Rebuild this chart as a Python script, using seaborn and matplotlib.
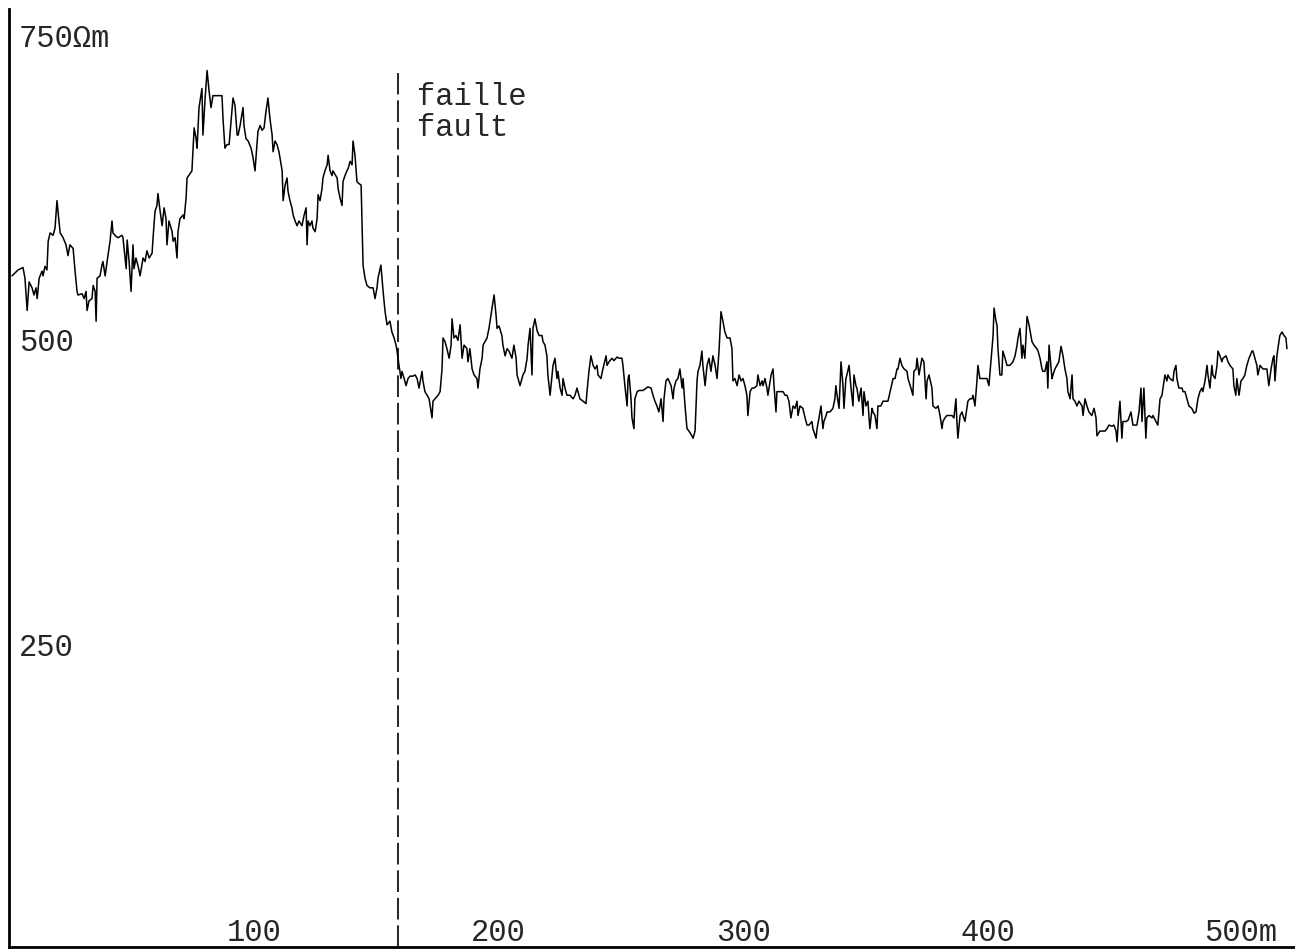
import seaborn as sns
import matplotlib.pyplot as plt
import pandas as pd

# resistivity profile (distance in m, apparent resistivity in ohm.m)
distance = [
    1.2, 3.7, 5.7, 6.5, 7.4, 8.2, 9.4, 10.2, 11.0, 11.5, 12.3, 13.5, 13.9, 14.7, 15.5, 16.0,
    16.8, 18.0, 18.8, 19.6, 20.4, 20.9, 22.1, 23.3, 24.1, 24.9, 26.2, 27.0, 27.8, 28.2, 29.9,
    30.7, 31.5, 31.9, 32.7, 33.9, 34.4, 35.2, 35.6, 36.0, 37.2, 38.0, 38.4, 39.3, 40.1, 41.3,
    42.1, 42.5, 43.8, 44.6, 46.2, 46.6, 47.9, 48.3, 49.1, 49.9, 50.7, 51.1, 51.9, 52.8, 53.6,
    54.8, 55.6, 56.4, 57.3, 58.5, 58.9, 59.7, 60.5, 60.9, 61.8, 62.6, 63.4, 64.2, 64.6, 65.4,
    66.7, 67.1, 67.9, 68.7, 69.1, 69.9, 71.2, 71.6, 72.4, 72.8,
    74.8, 75.7, 76.5, 76.9, 77.7, 78.9, 79.3, 80.2, 81.0, 81.8, 82.6, 83.4, 87.1, 87.5, 88.3,
    89.1, 90.0, 90.8, 91.6, 92.4, 93.3, 93.7, 94.5, 95.7, 96.1, 96.9, 97.8, 99.0, 99.8, 100.6,
    101.4, 101.8, 102.7, 103.5, 104.3, 105.1, 105.9, 106.7, 107.6, 108.0, 108.8, 109.6, 110.4,
    111.7, 112.1, 112.9, 113.7, 114.1, 114.9, 115.7, 116.2, 117.0, 117.8, 118.6, 119.8, 120.7,
    121.5, 121.9, 122.3, 123.1, 123.9, 124.3, 125.2, 126.0, 126.4, 127.2, 128.0, 128.4, 129.2,
    130.1, 130.5, 131.3, 132.1, 132.5, 134.2, 134.6, 135.4, 136.2, 136.6, 137.4, 138.2, 138.7,
    139.5, 140.3, 140.7, 141.5, 142.3, 142.7, 144.0, 144.4, 144.8, 145.6, 146.4, 147.6, 148.9,
    149.7, 150.5, 150.9, 152.1, 153.0, 153.8, 154.6, 155.8, 156.6, 157.5, 158.3, 158.7,
    159.5, 160.3, 160.7, 161.6, 162.4, 163.2, 164.0, 165.2, 166.1, 166.9, 167.7, 168.9, 169.3,
    170.1, 171.0, 171.8, 173.0, 173.4, 174.2, 175.5, 176.3, 177.1, 177.5, 178.3, 179.1, 180.0,
    180.8, 181.2, 182.0, 182.8, 183.6, 184.5, 185.3, 186.1, 187.3, 187.7, 188.5, 189.4, 190.2,
    191.4, 191.8, 192.6, 193.5, 193.9, 194.7, 195.5, 196.3, 197.1, 198.0, 198.4, 199.2, 199.6,
    200.4, 201.6, 202.0, 202.9, 203.7, 204.5, 205.7, 206.5, 207.4, 207.8, 209.0, 209.8, 210.2,
    211.0, 211.9, 212.3, 213.1, 213.9, 214.3, 215.1, 216.0, 216.8, 218.0, 218.4, 219.2, 220.0,
    220.4, 221.3, 222.1, 222.5, 223.3, 224.1, 224.5, 225.4, 226.2, 226.6, 227.4, 228.2, 229.4,
    230.7, 231.5, 232.3, 233.5, 234.8, 236.0, 236.4, 237.2, 238.0, 238.9, 239.7, 240.5, 240.9,
    242.1, 242.9, 244.2, 244.6,
    245.4, 246.6, 247.4, 248.7, 249.5, 250.7, 251.1, 251.9, 252.8, 253.2, 253.6, 254.4, 254.8,
    255.6, 256.0, 256.9, 257.7, 259.3, 261.3, 262.6, 263.4, 264.2, 265.0, 265.8, 266.7, 267.5,
    267.9, 268.7, 269.5, 270.8, 271.6, 272.0, 272.8, 273.6, 274.4, 275.3, 275.7, 276.5, 277.3,
    278.1, 279.3, 279.8, 280.6, 281.4, 281.8, 282.6, 283.4, 283.8, 284.7, 285.5, 286.3, 287.1,
    287.9, 288.8, 289.6, 290.4, 291.2, 292.0, 292.8, 293.7, 294.9, 295.7, 296.1, 296.9, 297.8,
    298.6, 299.4, 300.2, 301.0, 301.8, 302.2, 303.1, 303.9, 304.7, 305.9, 306.3, 307.2, 308.0,
    308.4, 309.2, 310.0, 310.4, 311.7, 312.5, 312.9, 313.7, 314.1, 315.3, 316.6, 317.4, 318.2,
    319.0, 319.8, 320.7, 321.5, 322.3, 322.7, 323.5, 324.7, 325.6, 326.4, 327.2, 328.4, 328.8,
    330.1, 330.5, 331.3,
    332.1, 332.9, 333.3, 334.2, 334.6, 335.8, 337.0, 337.8, 338.2, 338.7, 339.5, 340.3, 341.1,
    341.5, 342.3, 342.7, 343.6, 344.4, 345.2, 345.6, 346.4, 346.8, 347.6, 348.5, 349.3, 349.7,
    350.5, 351.3, 352.1, 353.0, 353.4, 354.2, 355.0, 355.4, 356.6, 357.5, 358.7, 359.5, 360.7,
    361.6, 362.4, 363.2, 363.6, 364.4, 365.2, 366.1, 367.3, 367.7, 368.9, 369.7, 370.1, 371.0,
    371.4, 372.2, 373.4, 374.2, 375.1, 375.5, 376.3, 377.5, 377.9, 379.1, 380.0, 380.8, 381.6,
    382.0, 382.8, 383.6, 384.5, 385.7, 386.5, 387.3, 387.7, 388.1, 389.0, 389.8, 390.2, 391.0,
    391.8, 392.2, 393.0, 393.9, 394.3, 395.1, 395.9, 396.3, 397.1, 398.4, 399.2, 400.0, 400.8,
    401.6, 402.5, 402.9, 403.7, 404.1, 404.5, 405.3, 406.1, 406.5, 407.4, 408.2, 409.4, 410.6,
    411.5, 412.3, 412.7, 413.5, 414.3, 414.7, 415.5, 416.4, 417.2,
    418.4, 419.2, 420.4, 420.9, 421.7, 422.5, 422.9, 423.7, 424.5, 424.9, 425.4, 426.6, 427.0,
    427.8, 428.6, 429.4, 430.3, 431.1, 431.9, 432.7, 433.1, 434.0, 434.8, 435.2, 436.0, 436.8,
    437.6, 438.9, 439.3, 440.1, 440.9, 441.7, 442.9, 443.8, 444.6, 445.0, 446.2, 447.4, 448.3,
    449.1, 449.9, 451.1, 451.9, 452.8, 453.2, 454.0, 454.4, 455.2, 455.6, 456.9, 457.7, 458.9,
    459.7, 460.5, 461.3, 462.2, 463.0, 463.4, 464.2, 465.0, 465.4, 466.3, 467.5, 467.9, 469.1,
    469.9, 470.8, 471.6, 472.0, 472.8, 473.6, 474.0, 474.8, 476.1, 476.5, 477.3, 477.7, 478.5,
    479.8, 480.2, 481.0, 481.8, 482.6, 483.8, 484.7, 485.5, 486.3, 487.1, 487.9, 488.3, 489.2,
    490.0, 490.4, 491.2, 492.0, 492.4, 493.3, 494.1, 494.5, 495.3, 496.1, 496.5, 497.8, 498.6,
    499.4, 500.6, 501.0, 501.8, 502.2, 503.1, 503.9, 504.7, 505.5, 506.3, 507.2, 508.4, 508.8,
    509.6, 510.4, 510.8, 511.7, 512.9, 513.7, 514.5, 515.3, 516.2, 517.0, 517.4, 517.8, 518.6,
    519.0, 519.8, 520.7, 521.5, 522.3, 522.7,
]
resistivity = [
    565, 570, 572, 563, 536, 560, 555, 549, 555, 546, 563, 569, 565, 573, 570, 594,
    601, 599, 605, 628, 611, 601, 597, 591, 582, 591, 588, 569, 552, 549, 550,
    546, 552, 536, 544, 546, 557, 552, 527, 563, 565, 574, 577, 565, 577, 594,
    611, 601, 598, 597, 599, 597, 571, 595, 577, 552, 591, 571, 580, 573, 565,
    580, 577, 586, 580, 584, 597, 619, 624, 634, 619, 607, 622, 613, 591, 611,
    602, 594, 597, 580, 602, 613, 616, 613, 630, 647,
    653, 689, 680, 672, 706, 722, 683, 714, 737, 720, 706, 716, 716, 697, 672,
    675, 675, 695, 714, 708, 683, 683, 691, 706, 691, 680, 678, 672, 664, 653,
    675, 686, 691, 687, 689, 703, 714, 697, 683, 669, 678, 675, 669,
    653, 628, 641, 647, 636, 628, 622, 616, 611, 607, 611, 607, 616,
    622, 591, 611, 607, 611, 605, 602, 613, 633, 628, 638, 647, 653,
    658, 666, 653, 649, 653, 647, 638, 630, 624, 644, 649, 653, 655,
    661, 658, 678, 666, 644, 643, 641, 607, 574, 563, 557, 555, 555,
    546, 555, 563, 574, 552, 535, 524, 527, 518, 513, 507, 502,
    490, 479, 485, 479, 473, 479, 481, 481, 482, 479, 471, 485, 477,
    468, 465, 462, 446, 460, 462, 465, 468, 487, 513, 510, 504, 496,
    507, 529, 513, 515, 511, 524, 496, 507, 504, 493, 504, 487, 482,
    479, 471, 487, 496, 507, 510, 513, 521, 532, 544, 549, 532, 521,
    523, 515, 507, 498, 504, 502, 496, 507, 496, 482, 473, 479, 482,
    485, 496, 507, 521, 482, 521, 529, 519, 515, 515, 510, 507, 498,
    482, 465, 482, 490, 496, 479, 485, 471, 465, 479, 471, 465, 465,
    462, 465, 471, 462, 460, 458, 468, 485, 498, 490, 487, 490, 482,
    479, 487, 498, 490,
    493, 496, 494, 497, 496, 496, 490, 473, 456, 479, 482, 462, 446,
    437, 462, 468, 469, 469, 472, 471, 465, 460, 456, 451, 462, 443,
    462, 477, 479, 473, 462, 471, 477, 479, 487, 471, 479, 456, 437,
    435, 431, 429, 435, 477, 485, 490, 502, 490, 473, 490, 496, 485,
    498, 490, 479, 502, 535, 527, 518, 513, 513, 504, 477, 479, 473,
    482, 477, 479, 473, 465, 448, 468, 471, 471, 473, 482, 473, 477,
    473, 479, 471, 465, 482, 487, 473, 451, 468, 468, 468, 465, 465,
    460, 446, 456, 454, 460, 448, 456, 454, 446, 440, 440, 443, 437,
    429, 437, 446,
    456, 437, 443, 448, 451, 451, 454, 462, 473, 465, 454, 493, 473,
    454, 479, 482, 490, 471, 456, 482, 473, 471, 460, 471, 448, 468,
    456, 460, 437, 454, 451, 448, 437, 456, 456, 460, 460, 460, 471,
    479, 479, 487, 487, 496, 490, 487, 485, 479, 471, 465, 485, 487,
    496, 482, 496, 493, 462, 477, 482, 471, 456, 454, 456, 448, 437,
    443, 446, 448, 448, 448, 446, 462, 443, 429, 448, 451, 448, 443,
    454, 460, 462, 462, 465, 456, 477, 490, 479, 479, 479, 479, 473,
    493, 515, 538, 527, 524, 504, 482, 482, 502, 496, 490, 490, 493,
    498, 507, 513, 521, 496, 507, 496, 531, 524,
    510, 507, 504, 502, 496, 487, 485, 485, 493, 471, 507, 479, 482,
    487, 490, 493, 506, 498, 487, 479, 468, 462, 482, 462, 460, 456,
    460, 456, 448, 462, 456, 451, 448, 454, 446, 431, 435, 435, 435,
    437, 440, 439, 440, 435, 426, 451, 460, 429, 443, 443, 444, 451,
    440, 440, 440, 451, 471, 443, 471, 429, 446, 448, 446, 448, 443,
    440, 462, 465, 471, 482, 477, 482, 479, 477, 485, 490, 479, 471,
    471, 468, 468, 462, 456, 454, 450, 451, 462, 468, 471, 468, 477,
    490, 482, 471, 490, 482, 479, 490, 502, 498, 493, 496, 498, 493,
    490, 487, 473, 465, 479, 465, 477, 479, 482, 490, 496, 502, 502,
    496, 490, 482, 490, 487, 487, 487, 473, 487, 496, 498, 477, 498,
    504, 515, 518, 515, 513, 504,
]

y_ticks = [250, 500, 750]
y_tick_labels = ["250", "500", "750Ωm"]
y_label_pos = [254, 510, 764]
x_ticks = [100, 200, 300, 400, 500]
x_tick_labels = ["100", "200", "300", "400", "500m"]
fault_at = 159
fault_labels = ["faille", "fault"]

profile = pd.DataFrame({"distance": distance, "resistivity": resistivity})

sns.set_style("white")
plt.rcParams["font.family"] = ["Liberation Mono", "DejaVu Sans Mono"]

fig = plt.figure(figsize=(12.95, 9.53), dpi=100)
ax = fig.add_axes([0.007, 0.005, 0.993, 0.985])

sns.lineplot(data=profile, x="distance", y="resistivity", ax=ax,
             color="black", linewidth=1.1, estimator=None, sort=False)

ax.set_xlim(0, 526)
ax.set_ylim(2.5, 789)

# dashed fault marker
ax.plot([fault_at, fault_at], [2.5, 735], color="black", linewidth=1.2,
        dashes=(13, 3.5))
ax.text(fault_at + 8, 716, fault_labels[0], fontsize=22, va="center", ha="left")
ax.text(fault_at + 8, 690, fault_labels[1], fontsize=22, va="center", ha="left")

# axes styled like the original hand drawn frame
for side in ["top", "right"]:
    ax.spines[side].set_visible(False)
for side in ["left", "bottom"]:
    ax.spines[side].set_color("black")
    ax.spines[side].set_linewidth(2)

ax.set_xticks(x_ticks)
ax.set_yticks(y_ticks)
ax.tick_params(axis="both", direction="in", length=5, width=2, colors="black",
               labelbottom=False, labelleft=False)

for v, lab in zip(y_label_pos, y_tick_labels):
    ax.text(4, v, lab, fontsize=22, va="center", ha="left")
for v, lab in zip(x_ticks, x_tick_labels):
    ax.text(v - 11, 15, lab, fontsize=22, va="center", ha="left")

ax.set_xlabel("")
ax.set_ylabel("")

fig.savefig("out.png", dpi=100, facecolor="white")
